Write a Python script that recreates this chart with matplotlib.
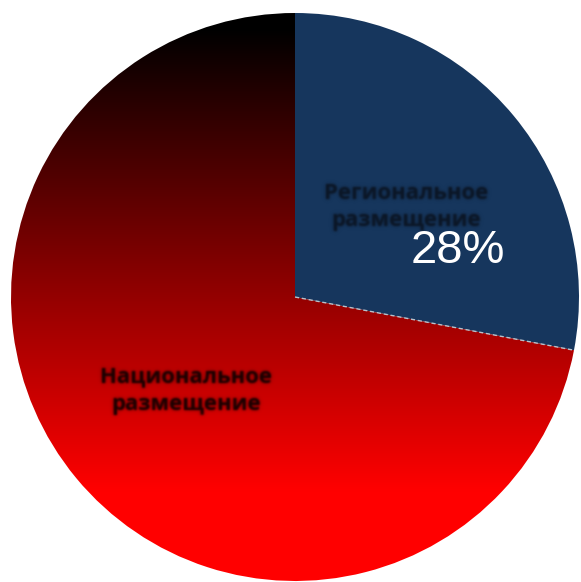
import numpy as np
import matplotlib
matplotlib.use("Agg")
import matplotlib.pyplot as plt
from matplotlib.colors import LinearSegmentedColormap, to_rgb

# Share of placements
labels = ["Региональное\nразмещение", "Национальное\nразмещение"]
shares = [28, 72]
pct_text = "28%"

W, H = 581, 582
fig = plt.figure(figsize=(W / 100, H / 100), dpi=100)
ax = fig.add_axes([0, 0, 1, 1])

cx, cy, r = 295, H - 297, 284

wedges, _ = ax.pie(shares, radius=r, center=(cx, cy), startangle=90,
                   counterclock=False, colors=["#16365d", "none"],
                   wedgeprops=dict(linewidth=0), frame=True)
ax.set_xlim(0, W)
ax.set_ylim(0, H)
ax.set_aspect("equal")
ax.axis("off")

# Black-to-red vertical gradient inside the national wedge
cmap = LinearSegmentedColormap.from_list(
    "bk_red", [(0.0, "#000000"), (0.03, "#000000"), (0.84, "#ff0000"), (1.0, "#ff0000")])
grad = np.linspace(0, 1, 512).reshape(-1, 1)
im = ax.imshow(grad, cmap=cmap, aspect="auto", origin="upper",
               extent=(cx - r, cx + r, cy - r - 2, cy + r + 2), zorder=1)
im.set_clip_path(wedges[1])

# thin light divider along the lower edge of the regional wedge
blue = wedges[0]
ang = np.deg2rad(min(blue.theta1, blue.theta2))
ax.plot([cx, cx + r * np.cos(ang)], [cy, cy + r * np.sin(ang)],
        color="#b9c2cc", lw=1.0, ls=(0, (3, 2)), zorder=3)


def blur(sigma_px, color):
    rgb = np.array(to_rgb(color))

    def _f(img, dpi):
        pad = int(3 * sigma_px) + 1
        out = np.pad(img, [(pad, pad), (pad, pad), (0, 0)])
        x = np.arange(-pad, pad + 1)
        k = np.exp(-x ** 2 / (2 * sigma_px ** 2))
        k /= k.sum()
        a = out[..., 3]
        a = np.apply_along_axis(lambda m: np.convolve(m, k, mode="same"), 0, a)
        a = np.apply_along_axis(lambda m: np.convolve(m, k, mode="same"), 1, a)
        out[..., :3] = rgb
        out[..., 3] = a
        return out, -pad, -pad
    return _f


def soft_text(x, y, s, color, size):
    for sig, alpha in [(2.2, 0.45), (1.0, 1.0)]:
        t = ax.text(x, y, s, ha="center", va="center", color=color, fontsize=size,
                    fontweight="bold", family=["Open Sans", "DejaVu Sans"],
                    linespacing=1.4, alpha=alpha, zorder=4)
        t.set_agg_filter(blur(sig, color))


soft_text(406, H - 207, labels[0], "#0b1626", 15.8)
soft_text(186, H - 391, labels[1], "#1a0000", 15.8)

ax.text(458, H - 251, pct_text, ha="center", va="center", color="white",
        fontsize=34, family=["Liberation Sans", "DejaVu Sans"], zorder=5)

fig.savefig("out.png", dpi=100, facecolor="white")
